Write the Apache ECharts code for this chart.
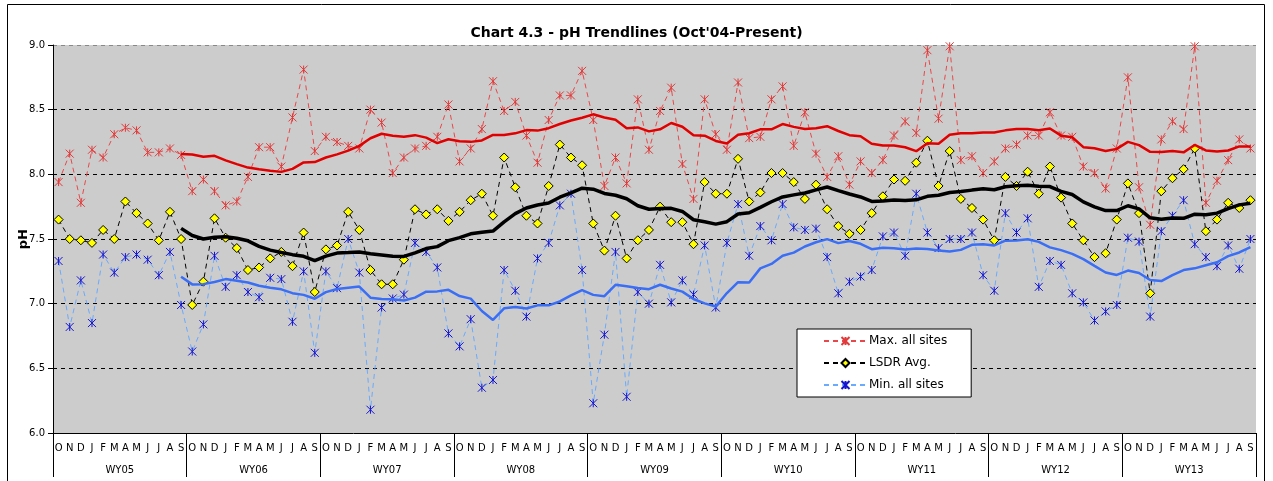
<!DOCTYPE html>
<html>
<head>
<meta charset="utf-8">
<script src="https://cdn.jsdelivr.net/npm/echarts@6/dist/echarts.min.js"></script>
<style>
  html, body { margin: 0; padding: 0; background: #fff; }
  #main { width: 1273px; height: 481px; }
</style>
</head>
<body>
<div id="main"></div>
<script>
// months of each water year (Oct - Sep)
var monthLetters = ['O', 'N', 'D', 'J', 'F', 'M', 'A', 'M', 'J', 'J', 'A', 'S'];
var waterYears = ['WY05', 'WY06', 'WY07', 'WY08', 'WY09', 'WY10', 'WY11', 'WY12', 'WY13'];
var yTicks = [6.0, 6.5, 7.0, 7.5, 8.0, 8.5, 9.0];

// monthly pH, Oct'04 .. Sep'13 (one row per water year)
var maxAllSites = [
  7.94, 8.16, 7.78, 8.19, 8.13, 8.31, 8.36, 8.34, 8.17, 8.17, 8.20, 8.15,
  7.87, 7.96, 7.87, 7.76, 7.79, 7.98, 8.21, 8.21, 8.06, 8.44, 8.81, 8.18,
  8.29, 8.25, 8.22, 8.20, 8.50, 8.40, 8.01, 8.13, 8.20, 8.22, 8.29, 8.54,
  8.10, 8.20, 8.35, 8.72, 8.49, 8.56, 8.30, 8.09, 8.42, 8.61, 8.61, 8.80,
  8.42, 7.91, 8.13, 7.93, 8.58, 8.19, 8.49, 8.67, 8.08, 7.81, 8.58, 8.31,
  8.19, 8.71, 8.28, 8.29, 8.58, 8.68, 8.22, 8.48, 8.16, 7.98, 8.14, 7.92,
  8.10, 8.01, 8.11, 8.30, 8.41, 8.32, 8.96, 8.43, 8.99, 8.11, 8.14, 8.01,
  8.10, 8.20, 8.23, 8.30, 8.30, 8.48, 8.30, 8.29, 8.06, 8.01, 7.89, 8.20,
  8.75, 7.90, 7.61, 8.27, 8.41, 8.35, 8.99, 7.78, 7.95, 8.11, 8.27, 8.20
];
var lsdrAvg = [
  7.65, 7.50, 7.49, 7.47, 7.57, 7.50, 7.79, 7.70, 7.62, 7.49, 7.71, 7.50,
  6.99, 7.17, 7.66, 7.51, 7.43, 7.26, 7.28, 7.35, 7.40, 7.29, 7.55, 7.09,
  7.42, 7.45, 7.71, 7.57, 7.26, 7.15, 7.15, 7.34, 7.73, 7.69, 7.73, 7.64,
  7.71, 7.80, 7.85, 7.68, 8.13, 7.90, 7.68, 7.62, 7.91, 8.23, 8.13, 8.07,
  7.62, 7.41, 7.68, 7.35, 7.49, 7.57, 7.75, 7.63, 7.63, 7.46, 7.94, 7.85,
  7.85, 8.12, 7.79, 7.86, 8.01, 8.01, 7.94, 7.81, 7.92, 7.73, 7.60, 7.54,
  7.57, 7.70, 7.83, 7.96, 7.95, 8.09, 8.26, 7.91, 8.18, 7.81, 7.74, 7.65,
  7.49, 7.98, 7.91, 8.02, 7.85, 8.06, 7.82, 7.62, 7.49, 7.36, 7.39, 7.65,
  7.93, 7.70, 7.08, 7.87, 7.97, 8.04, 8.20, 7.56, 7.65, 7.78, 7.74, 7.80
];
var minAllSites = [
  7.33, 6.82, 7.18, 6.85, 7.38, 7.24, 7.36, 7.38, 7.34, 7.22, 7.40, 6.99,
  6.63, 6.84, 7.37, 7.13, 7.22, 7.09, 7.05, 7.20, 7.19, 6.86, 7.25, 6.62,
  7.25, 7.12, 7.50, 7.24, 6.18, 6.97, 7.04, 7.07, 7.47, 7.40, 7.28, 6.77,
  6.67, 6.88, 6.35, 6.41, 7.26, 7.10, 6.90, 7.35, 7.47, 7.76, 7.85, 7.26,
  6.23, 6.76, 7.40, 6.28, 7.09, 7.00, 7.30, 7.01, 7.18, 7.07, 7.45, 6.97,
  7.47, 7.77, 7.37, 7.60, 7.49, 7.77, 7.59, 7.57, 7.58, 7.36, 7.08, 7.17,
  7.21, 7.26, 7.52, 7.55, 7.37, 7.85, 7.55, 7.43, 7.50, 7.50, 7.55, 7.22,
  7.10, 7.70, 7.55, 7.66, 7.13, 7.33, 7.30, 7.08, 7.01, 6.87, 6.94, 6.99,
  7.51, 7.48, 6.90, 7.56, 7.68, 7.80, 7.46, 7.36, 7.29, 7.45, 7.27, 7.50
];

var months = [];
waterYears.forEach(function () { months = months.concat(monthLetters); });

// the source chart's trendlines are Excel 12-period moving averages of each series
function movingAvg(arr, n) {
  return arr.map(function (v, i) {
    if (i < n - 1) return null;
    var s = 0;
    for (var k = i - n + 1; k <= i; k++) s += arr[k];
    return +(s / n).toFixed(3);
  });
}

var FONT = 'DejaVu Sans';
var star = 'path://M0,0L10,10M10,0L0,10M5,0L5,10';

var chart = echarts.init(document.getElementById('main'), null, { renderer: 'canvas' });

var option = {
  animation: false,
  textStyle: { fontFamily: FONT },
  title: {
    text: "Chart 4.3 - pH Trendlines (Oct'04-Present)",
    left: 'center',
    top: 21,
    textStyle: { fontFamily: FONT, fontSize: 14, fontWeight: 'bold', color: '#000' }
  },
  graphic: [{
    type: 'rect',
    shape: { x: 7.5, y: 4.5, width: 1257, height: 520 },
    style: { fill: 'none', stroke: '#000', lineWidth: 1 },
    silent: true
  }, {
    // y axis title, placed where the source has it
    type: 'text',
    left: 17,
    top: 229,
    rotation: Math.PI / 2,
    style: { text: 'pH', fontFamily: FONT, fontSize: 13, fontWeight: 'bold', fill: '#000' },
    silent: true
  }],
  legend: {
    data: ['Max. all sites', 'LSDR Avg.', 'Min. all sites'],
    orient: 'vertical',
    left: 797,
    top: 329,
    padding: [6, 24, 6, 26],
    itemGap: 10,
    itemWidth: 43,
    itemHeight: 10,
    backgroundColor: '#fff',
    borderColor: '#000',
    borderWidth: 1,
    textStyle: { fontFamily: FONT, fontSize: 12, color: '#000', padding: [0, 0, 0, -3] }
  },
  grid: {
    left: 53, right: 17, top: 45, bottom: 48,
    show: true, backgroundColor: '#cccccc', borderWidth: 0
  },
  xAxis: [{
    type: 'category',
    data: months,
    boundaryGap: true,
    axisLine: { lineStyle: { color: '#000', width: 1 } },
    axisTick: { show: false },
    axisLabel: { interval: 0, fontSize: 10, color: '#000', margin: 10, fontFamily: FONT }
  }, {
    type: 'category',
    data: waterYears,
    position: 'bottom',
    boundaryGap: true,
    axisLine: { show: false },
    axisTick: { show: true, interval: 0, length: 44, lineStyle: { color: '#000', width: 1 } },
    axisLabel: { interval: 0, fontSize: 10, color: '#000', margin: 32, fontFamily: FONT }
  }],
  yAxis: {
    type: 'value',
    min: 6, max: 9, interval: 0.5,
    axisLine: { show: true, lineStyle: { color: '#000', width: 1 } },
    axisTick: { show: true, length: 5, lineStyle: { color: '#000' } },
    axisLabel: {
      fontSize: 10, color: '#000', margin: 8, fontFamily: FONT,
      formatter: function (v) { return yTicks.indexOf(v) >= 0 ? v.toFixed(1) : ''; }
    },
    splitLine: {
      show: true,
      lineStyle: {
        color: ['#000', '#000', '#000', '#000', '#000', '#000', '#888'],
        type: [4, 4], width: 1
      }
    }
  },
  series: [{
    name: 'Max. all sites',
    type: 'line',
    data: maxAllSites,
    symbol: star,
    symbolSize: 8,
    itemStyle: { color: '#e03a3a', borderColor: '#e03a3a', borderWidth: 1 },
    lineStyle: { color: '#e8484a', width: 1, type: [5, 4] },
    z: 3
  }, {
    name: 'LSDR Avg.',
    type: 'line',
    data: lsdrAvg,
    symbol: 'diamond',
    symbolSize: 9,
    itemStyle: { color: '#ffff00', borderColor: '#000', borderWidth: 1 },
    lineStyle: { color: '#000', width: 1, type: [5, 4] },
    z: 3
  }, {
    name: 'Min. all sites',
    type: 'line',
    data: minAllSites,
    symbol: star,
    symbolSize: 8,
    itemStyle: { color: '#1515d0', borderColor: '#1515d0', borderWidth: 1 },
    lineStyle: { color: '#6aaaff', width: 1, type: [5, 4] },
    z: 3
  }, {
    name: 'Max trend',
    type: 'line',
    data: movingAvg(maxAllSites, 12),
    symbol: 'none',
    lineStyle: { color: '#e00000', width: 2.5 },
    z: 4
  }, {
    name: 'Avg trend',
    type: 'line',
    data: movingAvg(lsdrAvg, 12),
    symbol: 'none',
    lineStyle: { color: '#000', width: 3.5 },
    z: 4
  }, {
    name: 'Min trend',
    type: 'line',
    data: movingAvg(minAllSites, 12),
    symbol: 'none',
    lineStyle: { color: '#3a6ef5', width: 2.5 },
    z: 4
  }]
};

chart.setOption(option);
</script>
</body>
</html>
